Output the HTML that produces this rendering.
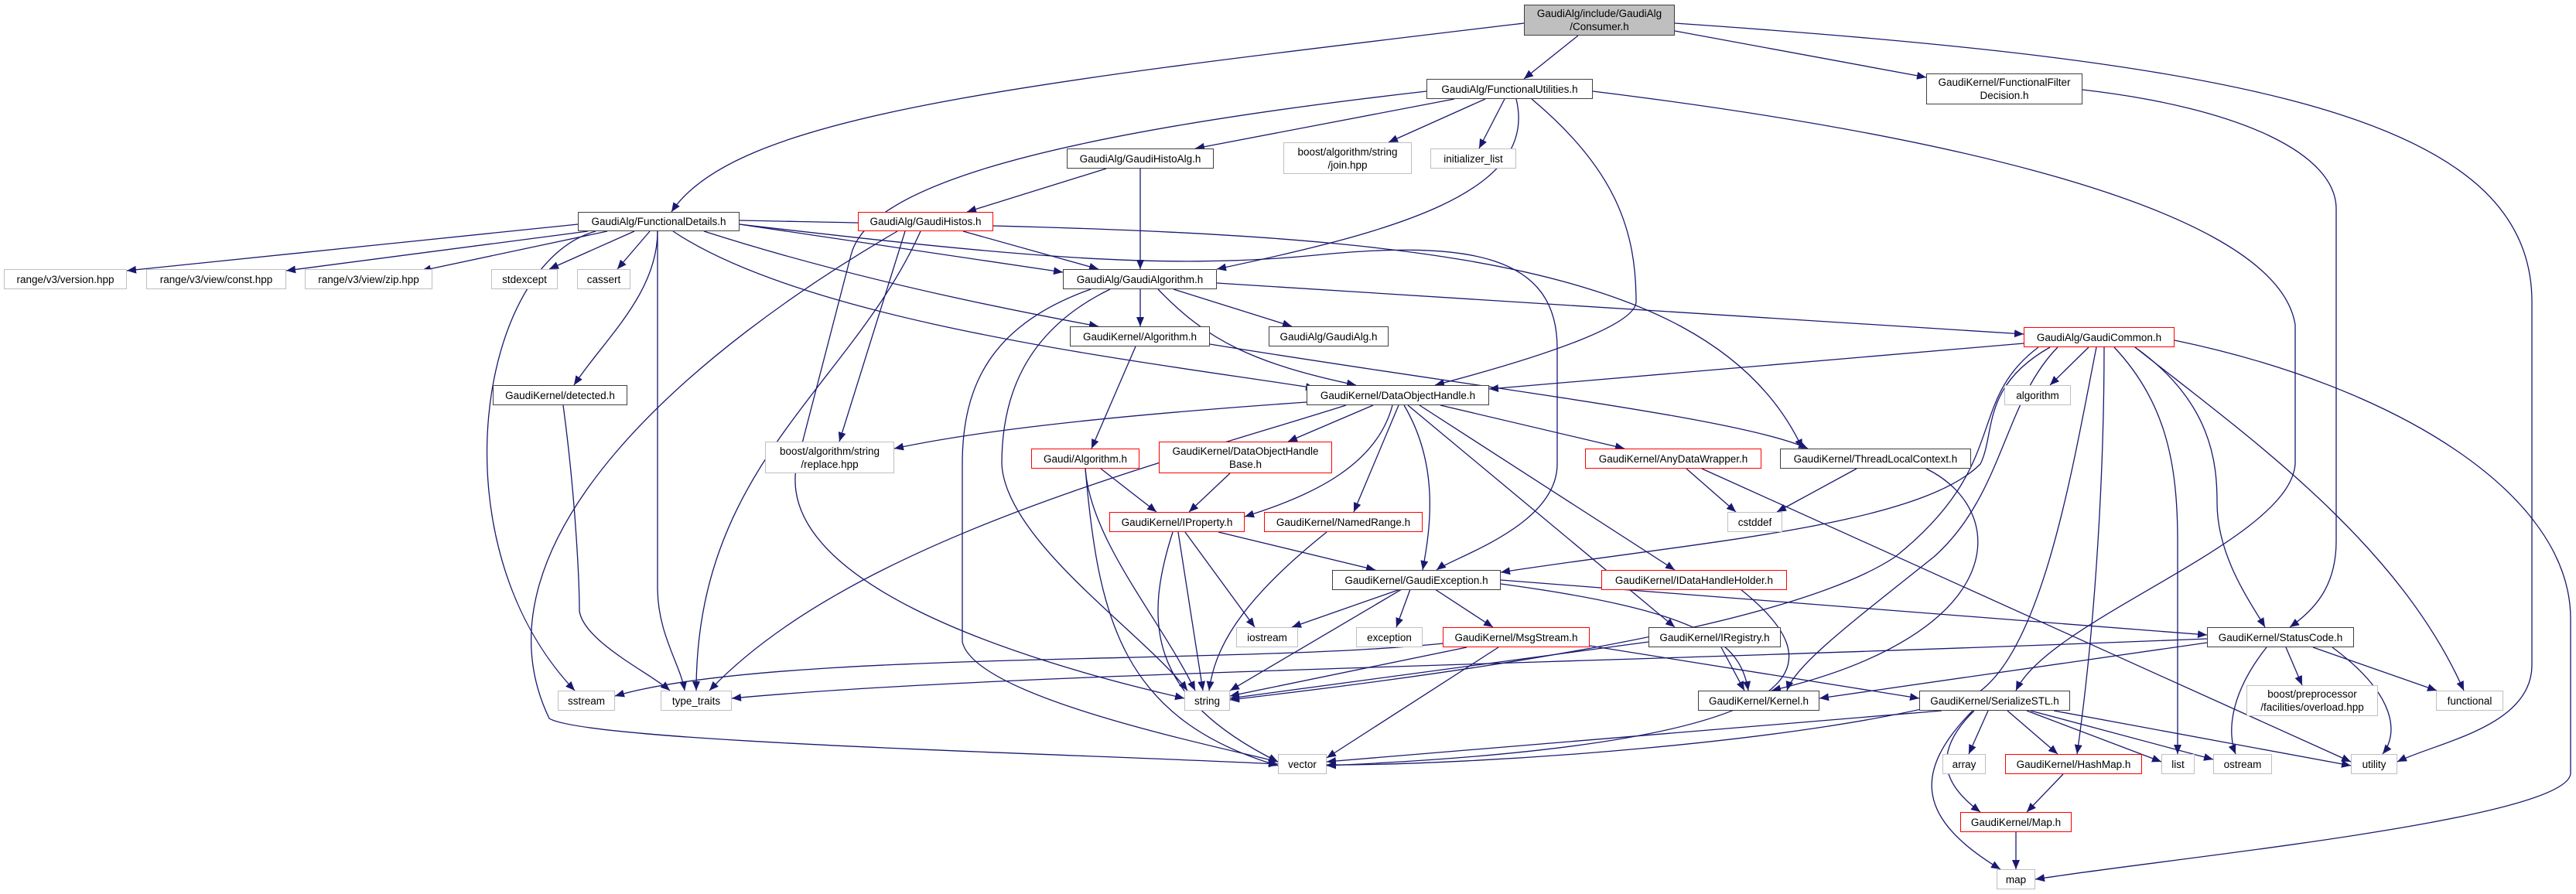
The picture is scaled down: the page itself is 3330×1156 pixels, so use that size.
<!DOCTYPE html>
<html><head><meta charset="utf-8"><style>
body{margin:0;background:#fff;width:3330px;height:1156px;position:relative;overflow:hidden;font-family:"Liberation Sans",sans-serif}
.n{position:absolute;box-sizing:border-box;background:#fff;border:1.5px solid #404040;display:flex;align-items:center;justify-content:center;text-align:center;font-size:13.5px;line-height:17px;color:#000;white-space:nowrap}
.r{border-color:#ff0000}
.g{border-color:#bfbfbf}
svg{position:absolute;left:0;top:0}
</style></head><body>
<svg width="3330" height="1156" viewBox="0 0 3330 1156">
<defs><marker id="a" markerUnits="userSpaceOnUse" markerWidth="14" markerHeight="10" refX="12" refY="5" orient="auto"><path d="M0,0 L12,5 L0,10 z" fill="#191970"/></marker></defs>
<g fill="none" stroke="#191970" stroke-width="1.3" marker-end="url(#a)">
<path d="M1970,30 C1300,110 950,150 868,274"/>
<path d="M2040,46 L1970,102"/>
<path d="M2165,40 L2490,100"/>
<path d="M2165,30 C2900,80 3273,150 3273,390 L3273,860 C3273,940 3150,960 3099,985"/>
<path d="M1880,128 L1545,192"/>
<path d="M1920,128 L1795,184"/>
<path d="M1945,128 L1912,192"/>
<path d="M1960,128 C1990,250 1800,300 1573,348"/>
<path d="M1980,128 C2090,220 2115,300 2115,390 C2115,420 2000,460 1855,498"/>
<path d="M2059,118 C2400,160 2940,250 2967,420 L2967,600 C2960,700 2650,800 2606,893"/>
<path d="M1844,118 C1300,180 1120,250 1100,330 L1030,600 C1000,750 1300,850 1531,903"/>
<path d="M747,290 L164,350"/>
<path d="M760,299 L370,350"/>
<path d="M785,299 L545,350"/>
<path d="M820,299 L710,348"/>
<path d="M840,299 L798,348"/>
<path d="M850,299 C850,380 780,440 742,498"/>
<path d="M770,299 C620,340 560,700 743,893"/>
<path d="M850,299 L850,760 C850,820 880,860 885,893"/>
<path d="M956,290 L1374,352"/>
<path d="M910,299 C1100,360 1300,400 1420,422"/>
<path d="M870,299 C1050,420 1500,470 1700,502"/>
<path d="M956,285 C1700,300 2200,300 2330,580"/>
<path d="M956,290 C1300,330 1500,350 1700,330 C1900,310 2013,330 2013,450 L2013,600 C2013,680 1880,720 1857,737"/>
<path d="M1245,299 L1420,348"/>
<path d="M1170,299 L1085,571"/>
<path d="M1190,299 C1100,500 900,600 900,893"/>
<path d="M1160,299 C900,450 600,700 710,929 C760,960 1400,975 1652,988"/>
<path d="M1430,218 L1250,274"/>
<path d="M1474,218 L1474,348"/>
<path d="M1474,374 L1474,422"/>
<path d="M1517,374 L1670,422"/>
<path d="M1497,374 C1560,440 1620,470 1753,498"/>
<path d="M1573,366 L2616,432"/>
<path d="M1410,374 C1280,420 1244,500 1244,600 L1244,830 C1260,900 1550,960 1652,985"/>
<path d="M1435,374 C1320,430 1295,520 1295,600 C1300,700 1480,820 1535,893"/>
<path d="M1468,448 L1411,580"/>
<path d="M1564,445 C1900,500 2250,540 2337,580"/>
<path d="M2616,444 L1925,503"/>
<path d="M2700,449 L2650,498"/>
<path d="M2650,449 C2560,500 2580,560 2560,600 C2480,680 2200,700 1940,740"/>
<path d="M2635,449 C2540,520 2600,600 2450,720 C2300,820 1800,880 1590,905"/>
<path d="M2710,449 C2680,600 2640,850 2550,900 C2350,960 1900,990 1715,989"/>
<path d="M2660,449 C2590,520 2590,640 2500,720 C2400,800 2320,860 2310,893"/>
<path d="M2720,449 C2720,600 2710,800 2685,975"/>
<path d="M2733,449 C2800,520 2815,600 2815,700 L2815,975"/>
<path d="M2760,449 C2860,520 2866,600 2866,650 C2866,720 2910,780 2928,811"/>
<path d="M2760,449 C2900,560 3100,700 3185,893"/>
<path d="M2811,440 C3100,500 3323,640 3323,800 L3323,1000 C3320,1060 2800,1110 2631,1137"/>
<path d="M1689,520 C1400,540 1250,560 1156,580"/>
<path d="M1740,524 C1500,600 1100,700 917,893"/>
<path d="M1775,524 L1665,571"/>
<path d="M1800,524 C1780,600 1700,640 1609,668"/>
<path d="M1808,524 L1750,662"/>
<path d="M1815,524 C1860,600 1850,680 1839,737"/>
<path d="M1820,524 L2165,811"/>
<path d="M1835,524 L2165,737"/>
<path d="M1862,524 L2100,580"/>
<path d="M1423,606 L1495,662"/>
<path d="M1403,606 C1410,700 1500,800 1545,893"/>
<path d="M1403,606 C1420,800 1450,930 1652,990"/>
<path d="M1590,612 L1537,662"/>
<path d="M1575,688 L1778,737"/>
<path d="M1532,688 L1622,811"/>
<path d="M1523,688 L1555,893"/>
<path d="M1516,688 C1480,800 1480,900 1652,985"/>
<path d="M1715,688 C1600,780 1570,840 1563,893"/>
<path d="M2180,606 L2244,662"/>
<path d="M2200,606 L3039,985"/>
<path d="M2400,606 L2297,662"/>
<path d="M2490,606 C2600,660 2600,820 2290,893"/>
<path d="M1810,762 L1670,811"/>
<path d="M1823,762 L1805,811"/>
<path d="M1855,762 L1930,811"/>
<path d="M1812,762 L1590,893"/>
<path d="M1940,755 C2200,790 2250,830 2260,893"/>
<path d="M1940,750 L2853,821"/>
<path d="M2250,762 C2360,850 2400,960 1715,990"/>
<path d="M1896,837 L1590,900"/>
<path d="M1937,837 L1715,980"/>
<path d="M1865,832 C1600,860 1000,840 795,900"/>
<path d="M2055,835 L2481,903"/>
<path d="M2225,837 L2255,893"/>
<path d="M2131,830 L1590,903"/>
<path d="M2853,826 C2000,860 1300,870 946,903"/>
<path d="M2853,831 L2352,903"/>
<path d="M2930,837 C2880,900 2880,950 2890,975"/>
<path d="M2955,837 L2976,886"/>
<path d="M2990,837 L3150,893"/>
<path d="M3015,837 C3100,900 3100,950 3080,975"/>
<path d="M2510,919 L1715,985"/>
<path d="M2570,919 L2545,975"/>
<path d="M2595,919 L2660,975"/>
<path d="M2620,919 L2794,985"/>
<path d="M2625,919 L2861,982"/>
<path d="M2655,919 L3039,990"/>
<path d="M2552,919 C2490,980 2520,1020 2560,1050"/>
<path d="M2550,919 C2470,1000 2480,1060 2586,1124"/>
<path d="M2667,1001 L2620,1050"/>
<path d="M2606,1076 L2606,1124"/>
<path d="M2692,116 C2900,140 3020,200 3020,270 L3020,700 C3020,760 2990,790 2960,811"/>
<path d="M728,524 C745,650 749,760 749,790 C755,830 840,870 866,893"/>
</g></svg>

<div class="n" style="left:1970px;top:6px;width:195px;height:40px;background:#bfbfbf">GaudiAlg/include/GaudiAlg<br>/Consumer.h</div>
<div class="n" style="left:1844px;top:102px;width:215px;height:26px">GaudiAlg/FunctionalUtilities.h</div>
<div class="n" style="left:2490px;top:95px;width:202px;height:40px">GaudiKernel/FunctionalFilter<br>Decision.h</div>
<div class="n" style="left:1379px;top:192px;width:190px;height:26px">GaudiAlg/GaudiHistoAlg.h</div>
<div class="n g" style="left:1659px;top:184px;width:166px;height:41px">boost/algorithm/string<br>/join.hpp</div>
<div class="n g" style="left:1849px;top:192px;width:111px;height:26px">initializer_list</div>
<div class="n" style="left:747px;top:274px;width:209px;height:25px">GaudiAlg/FunctionalDetails.h</div>
<div class="n r" style="left:1109px;top:274px;width:175px;height:25px">GaudiAlg/GaudiHistos.h</div>
<div class="n g" style="left:5px;top:348px;width:159px;height:26px">range/v3/version.hpp</div>
<div class="n g" style="left:189px;top:348px;width:181px;height:26px">range/v3/view/const.hpp</div>
<div class="n g" style="left:394px;top:348px;width:165px;height:26px">range/v3/view/zip.hpp</div>
<div class="n g" style="left:635px;top:348px;width:86px;height:26px">stdexcept</div>
<div class="n g" style="left:746px;top:348px;width:69px;height:26px">cassert</div>
<div class="n" style="left:1374px;top:348px;width:199px;height:26px">GaudiAlg/GaudiAlgorithm.h</div>
<div class="n" style="left:1383px;top:422px;width:181px;height:26px">GaudiKernel/Algorithm.h</div>
<div class="n" style="left:1640px;top:422px;width:155px;height:26px">GaudiAlg/GaudiAlg.h</div>
<div class="n r" style="left:2616px;top:423px;width:195px;height:26px">GaudiAlg/GaudiCommon.h</div>
<div class="n" style="left:637px;top:498px;width:174px;height:26px">GaudiKernel/detected.h</div>
<div class="n" style="left:1689px;top:498px;width:236px;height:26px">GaudiKernel/DataObjectHandle.h</div>
<div class="n g" style="left:2591px;top:498px;width:86px;height:26px">algorithm</div>
<div class="n g" style="left:989px;top:571px;width:167px;height:41px">boost/algorithm/string<br>/replace.hpp</div>
<div class="n r" style="left:1333px;top:580px;width:140px;height:26px">Gaudi/Algorithm.h</div>
<div class="n r" style="left:1498px;top:571px;width:224px;height:41px">GaudiKernel/DataObjectHandle<br>Base.h</div>
<div class="n r" style="left:2049px;top:580px;width:228px;height:26px">GaudiKernel/AnyDataWrapper.h</div>
<div class="n" style="left:2301px;top:580px;width:247px;height:26px">GaudiKernel/ThreadLocalContext.h</div>
<div class="n r" style="left:1434px;top:662px;width:175px;height:26px">GaudiKernel/IProperty.h</div>
<div class="n r" style="left:1634px;top:662px;width:205px;height:26px">GaudiKernel/NamedRange.h</div>
<div class="n g" style="left:2233px;top:662px;width:71px;height:26px">cstddef</div>
<div class="n" style="left:1722px;top:737px;width:218px;height:26px">GaudiKernel/GaudiException.h</div>
<div class="n r" style="left:2070px;top:737px;width:240px;height:26px">GaudiKernel/IDataHandleHolder.h</div>
<div class="n g" style="left:1598px;top:811px;width:80px;height:26px">iostream</div>
<div class="n g" style="left:1753px;top:811px;width:86px;height:26px">exception</div>
<div class="n r" style="left:1865px;top:811px;width:190px;height:26px">GaudiKernel/MsgStream.h</div>
<div class="n" style="left:2131px;top:811px;width:171px;height:26px">GaudiKernel/IRegistry.h</div>
<div class="n" style="left:2853px;top:811px;width:190px;height:26px">GaudiKernel/StatusCode.h</div>
<div class="n g" style="left:721px;top:893px;width:74px;height:26px">sstream</div>
<div class="n g" style="left:854px;top:893px;width:92px;height:26px">type_traits</div>
<div class="n g" style="left:1531px;top:893px;width:59px;height:26px">string</div>
<div class="n" style="left:2195px;top:893px;width:157px;height:26px">GaudiKernel/Kernel.h</div>
<div class="n" style="left:2481px;top:893px;width:195px;height:26px">GaudiKernel/SerializeSTL.h</div>
<div class="n g" style="left:2904px;top:886px;width:170px;height:40px">boost/preprocessor<br>/facilities/overload.hpp</div>
<div class="n g" style="left:3149px;top:893px;width:87px;height:26px">functional</div>
<div class="n g" style="left:1652px;top:975px;width:63px;height:26px">vector</div>
<div class="n g" style="left:2511px;top:975px;width:56px;height:26px">array</div>
<div class="n r" style="left:2592px;top:975px;width:177px;height:26px">GaudiKernel/HashMap.h</div>
<div class="n g" style="left:2794px;top:975px;width:43px;height:26px">list</div>
<div class="n g" style="left:2861px;top:975px;width:76px;height:26px">ostream</div>
<div class="n g" style="left:3039px;top:975px;width:60px;height:26px">utility</div>
<div class="n r" style="left:2534px;top:1050px;width:144px;height:26px">GaudiKernel/Map.h</div>
<div class="n g" style="left:2581px;top:1124px;width:50px;height:26px">map</div>
</body></html>
